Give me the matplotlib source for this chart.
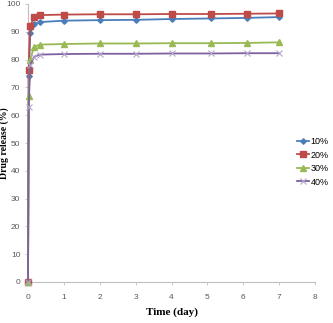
import numpy as np
import matplotlib
matplotlib.use('Agg')
import matplotlib.pyplot as plt

# release time points (day)
time_day = [0, 0.02, 0.06, 0.17, 0.33, 1, 2, 3, 4, 5.1, 6.1, 7]

# cumulative drug release (%)
rel_10 = [0, 74.0, 89.5, 92.8, 93.5, 94.0, 94.2, 94.3, 94.6, 94.8, 95.0, 95.3]
rel_20 = [0, 76.3, 92.0, 95.3, 96.0, 96.2, 96.3, 96.3, 96.4, 96.4, 96.5, 96.6]
rel_30 = [0, 66.8, 80.0, 84.6, 85.4, 85.6, 85.8, 85.8, 85.9, 85.9, 86.0, 86.2]
rel_40 = [0, 63.0, 78.0, 81.0, 81.8, 82.0, 82.1, 82.1, 82.2, 82.2, 82.3, 82.3]

labels = ['10%', '20%', '30%', '40%']
x_ticks = list(range(0, 9))
y_ticks = list(range(0, 101, 10))

TICKFONT = ['Liberation Sans Narrow', 'Liberation Sans', 'DejaVu Sans']
GRAY = '#595959'


def main(filename='out.png'):
    fig = plt.figure(figsize=(3.33, 3.23), dpi=100)
    ax = fig.add_axes([28/333, 1 - 282/323, 287/333, 278/323])

    styles = [
        dict(color='#4A7EBB', marker='D', ms=2.8),
        dict(color='#BE4B48', marker='s', ms=3.8),
        dict(color='#98B954', marker='^', ms=3.8),
        dict(color='#7D60A0', marker='x', ms=3.8, mec='#B3A6CC', mew=0.8),
    ]
    for y, lab, st in zip([rel_10, rel_20, rel_30, rel_40], labels, styles):
        ax.plot(time_day, y, lw=1.3, label=lab, clip_on=False, zorder=3, **st)

    ax.set_xlim(0, 8)
    ax.set_ylim(0, 100)
    ax.set_xticks(x_ticks)
    ax.set_yticks(y_ticks)

    for s in ['top', 'right']:
        ax.spines[s].set_visible(False)
    for s in ['left', 'bottom']:
        ax.spines[s].set_color('#BFBFBF')
        ax.spines[s].set_linewidth(0.8)
    ax.tick_params(direction='out', length=2.5, width=0.6, color='#BFBFBF',
                   labelsize=6, labelcolor=GRAY, pad=3)
    ax.tick_params(axis='x', pad=6)
    for t in ax.get_xticklabels() + ax.get_yticklabels():
        t.set_family(TICKFONT)

    ax.set_xlabel('Time (day)', fontsize=8, fontweight='bold',
                  family='Liberation Serif', labelpad=5)
    ax.set_ylabel('Drug release (%)', fontsize=7, fontweight='bold',
                  family='Liberation Serif')
    ax.yaxis.set_label_coords(-0.066, 0.5)

    fig.legend(loc='upper left', bbox_to_anchor=(297/333, 1 - 137/323),
               frameon=False, handlelength=1.3, handletextpad=0.2,
               labelspacing=0.5, borderaxespad=0, borderpad=0,
               prop={'family': TICKFONT, 'size': 6.5})

    fig.savefig(filename, dpi=100)


if __name__ == "__main__":
    main()
